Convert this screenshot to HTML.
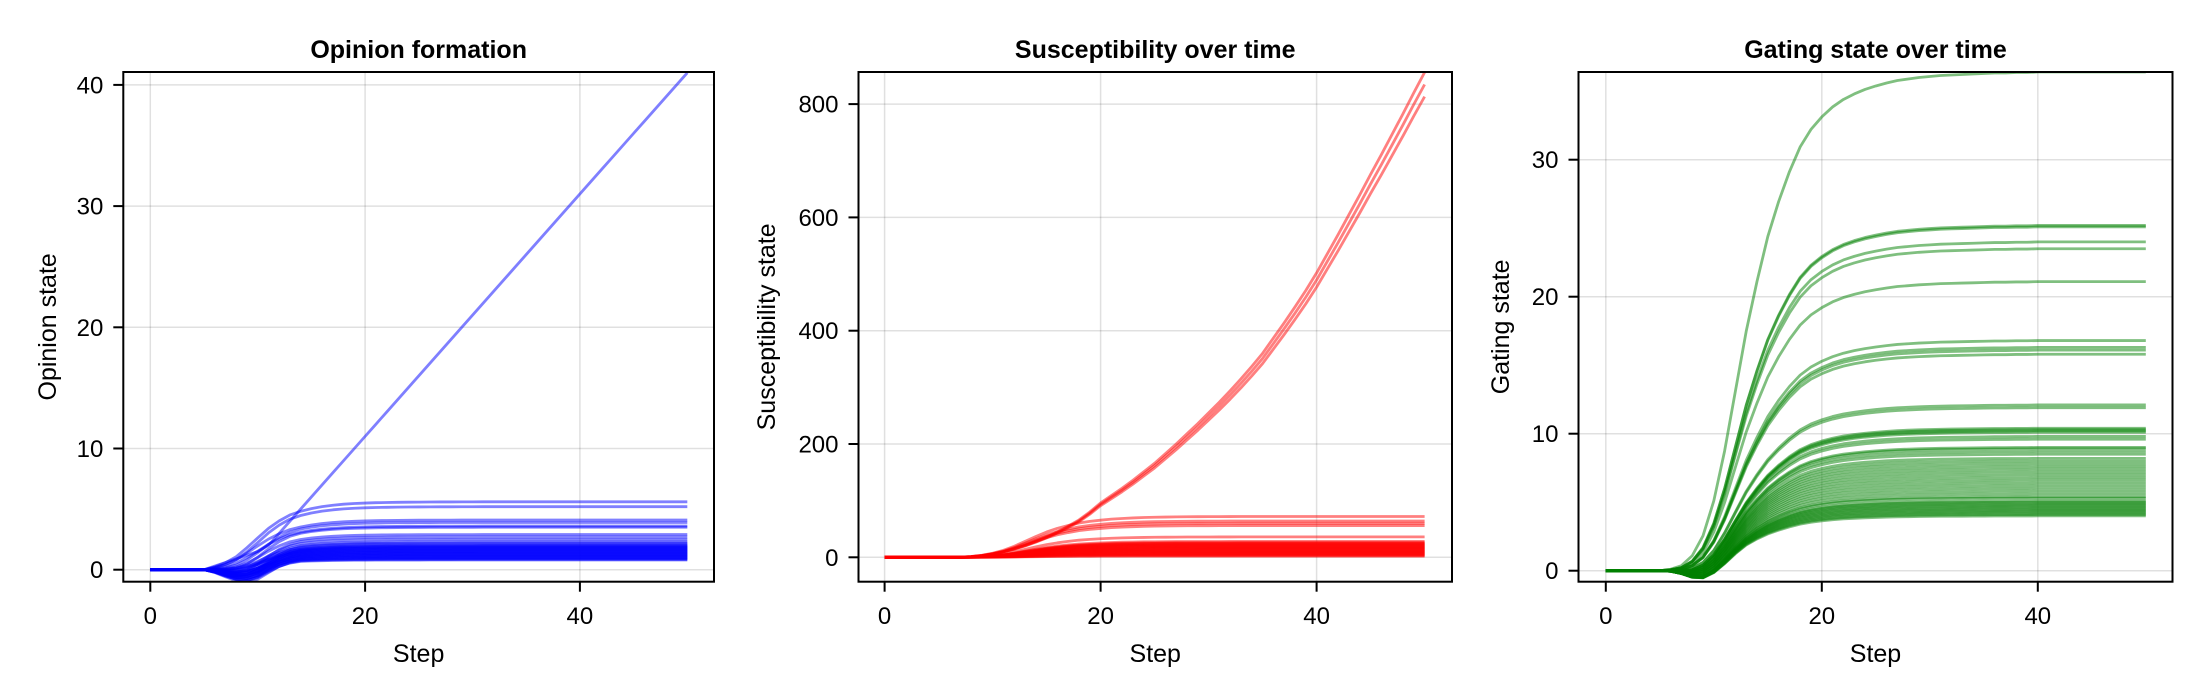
<!DOCTYPE html>
<html><head><meta charset="utf-8">
<style>
html,body{margin:0;padding:0;background:#fff;}
svg{display:block;font-family:"Liberation Sans",sans-serif;}
</style></head>
<body>
<svg id="fig" width="2200" height="700" viewBox="0 0 2200 700" xmlns="http://www.w3.org/2000/svg"></svg>
<script>
// ---------- data ----------
const steps = Array.from({length:51},(_,i)=>i);
const xTicks = [0,20,40];

// Opinion panel
const opinionTicks = [0,10,20,30,40];
const opinionFinals = [5.6,5.2,4.1,3.9,3.6,3.5,2.9,2.7,2.5,2.3,2.2,2.1,2.0,1.95,1.9,1.85,1.8,1.75,1.7,1.65,1.6,1.55,1.5,1.45,1.4,1.35,1.3,1.25,1.2,1.15,1.1,1.05,1.0,0.95,0.9,0.85,0.8];
const opinionDipAmps = [0.2,0.4,0.1,0.6,0.3,0.8,0.5,1.0,0.7,0.9,1.2,0.4,1.1,0.6,0.9,1.3,0.5,1.0,0.8,1.2,0.3,1.1,0.7,1.4,0.9,0.6,1.0,1.2,0.8,1.3,0.5,1.1,0.9,1.4,0.7,1.2,1.0];
const opinionRise = [0,0,0,0,0,0,0.05,0.12,0.22,0.36,0.5,0.63,0.73,0.81,0.86,0.9,0.93,0.95,0.965,0.975,0.982,0.987,0.99,0.993,0.995,0.996,0.997,0.998,0.998,0.999,0.999].concat(Array(20).fill(1));
const opinionDip = [0,0,0,0,0,0,-0.2,-0.5,-0.8,-1,-0.9,-0.6,-0.3,-0.1,0].concat(Array(36).fill(0));
const opinionOutlier = [0,0,0,0,0,0,0.3,0.6,0.9,1.2,1.5,2,3,4,5,6,7,8,9,10,11,12,13,14,15,16,17,18,19,20,21,22,23,24,25,26,27,28,29,30,31,32,33,34,35,36,37,38,39,40,41];

// Susceptibility panel
const suscTicks = [0,200,400,600,800];
const suscGrowth = [0,0,0,0,0,0,0,0,1,3,6,10,15,21,28,36,45,55,66,80,96,109,122,136,151,166,183,200,218,236,255,274,294,315,337,360,387,414,442,471,502,536,570,605,640,676,711,747,783,820,856];
const suscGrowthScales = [1,0.975,0.95];
const suscFinals = [72,64,60,56,36,28,26,25,24,23,22,21,20,19,18,17,16,15,14,13,12,11,10,9,8,7,6,5,4,3,2];
const suscRise = [0,0,0,0,0,0,0,0.005,0.02,0.05,0.1,0.17,0.27,0.39,0.51,0.62,0.71,0.78,0.84,0.88,0.91,0.935,0.952,0.965,0.975,0.982,0.987,0.991,0.994,0.996,0.997,0.998,0.999].concat(Array(18).fill(1));

// Gating panel
const gatingTicks = [0,10,20,30];
const gatingFinals = [36.4,25.2,25.1,24.0,23.5,21.1,16.8,16.3,16.1,15.8,12.1,11.9,10.4,10.3,10.2,10.1,9.8,9.6,9.0,8.9,8.7,8.5,8.2,8.0,7.8,7.6,7.4,7.2,7.0,6.8,6.6,6.4,6.2,6.0,5.8,5.6,5.4,5.3,5.1,5.0,4.9,4.8,4.7,4.6,4.5,4.4,4.3,4.2,4.1,4.0];
const gatingDipAmps = [0,0.1,0.1,0.1,0.1,0.2,0.2,0.2,0.2,0.2,0.3,0.3,0.4,0.4,0.4,0.4,0.5,0.5,0.5,0.5,0.6,0.6,0.6,0.6,0.7,0.7,0.7,0.7,0.8,0.8,0.8,0.8,0.9,0.9,0.9,0.9,1,1,1,1,1,1,1,1,1,1,1,1,1,1];
const gatingRise = [0,0,0,0,0,0,0.003,0.01,0.03,0.07,0.14,0.24,0.36,0.48,0.58,0.67,0.74,0.80,0.85,0.885,0.91,0.93,0.945,0.956,0.965,0.972,0.978,0.983,0.986,0.989,0.991,0.993,0.994,0.995,0.996,0.997,0.998,0.998,0.999,0.999].concat(Array(11).fill(1));
const gatingDip = [0,0,0,0,0,0,-0.05,-0.25,-0.6,-0.8,-0.7,-0.45,-0.2,-0.05].concat(Array(37).fill(0));

// ---------- drawing ----------
const NS = "http://www.w3.org/2000/svg";
const svg = document.getElementById('fig');
function mk(tag, attrs, parent){
  const e = document.createElementNS(NS, tag);
  for (const k in attrs) e.setAttribute(k, attrs[k]);
  (parent||svg).appendChild(e);
  return e;
}

function panel(cfg){
  const g = mk('g', {});
  
  
  const L=cfg.left, R=cfg.right, T=72, B=581.7;
  const sx = v => cfg.x0 + v*(cfg.xUnit);
  const sy = v => cfg.y0 - v*(cfg.yUnit);
  cfg.yTicks.forEach(t=>{
    const l = mk('line',{x1:L,x2:R,y1:sy(t),y2:sy(t),stroke:'rgba(0,0,0,0.12)','stroke-width':1.5},g);
    
    
  });
  xTicks.forEach(t=>{
    const l = mk('line',{x1:sx(t),x2:sx(t),y1:T,y2:B,stroke:'rgba(0,0,0,0.12)','stroke-width':1.5},g);
    
    
  });
  const clipId = 'clip-'+cfg.name;
  const cp = mk('clipPath',{id:clipId},g);
  mk('rect',{x:L,y:T,width:R-L,height:B-T},cp);
  const sg = mk('g',{'clip-path':'url(#'+clipId+')'},g);
  cfg.series.forEach(vals=>{
    const d = vals.map((v,i)=>(i?'L':'M')+sx(steps[i]).toFixed(2)+','+sy(v).toFixed(2)).join('');
    const p = mk('path',{d:d,fill:'none',stroke:cfg.color,'stroke-opacity':0.5,'stroke-width':2.8,'stroke-linejoin':'round'},sg);
    
    
  });
  const fr = mk('rect',{x:L,y:T,width:R-L,height:B-T,fill:'none',stroke:'#000','stroke-width':2},g);
  
  
  cfg.yTicks.forEach(t=>{
    mk('line',{x1:L-10,x2:L,y1:sy(t),y2:sy(t),stroke:'#000','stroke-width':2},g);
    const tx = mk('text',{x:L-20,y:sy(t)+8.5,'text-anchor':'end','font-size':24},g);
    tx.textContent = t;
    
    
  });
  xTicks.forEach(t=>{
    mk('line',{x1:sx(t),x2:sx(t),y1:B,y2:B+10,stroke:'#000','stroke-width':2},g);
    const tx = mk('text',{x:sx(t),y:624,'text-anchor':'middle','font-size':24},g);
    tx.textContent = t;
    
    
  });
  const ttl = mk('text',{x:(L+R)/2,y:58,'text-anchor':'middle','font-size':25,'font-weight':'bold'},g);
  ttl.textContent = cfg.title;
  
  
  const xl = mk('text',{x:(L+R)/2,y:662,'text-anchor':'middle','font-size':25},g);
  xl.textContent = 'Step';
  
  
  const yl = mk('text',{x:0,y:0,'text-anchor':'middle','font-size':25,transform:'translate('+(cfg.ylx+9)+','+((T+B)/2)+') rotate(-90)'},g);
  yl.textContent = cfg.ylabel;
  
  
}

const opinionSeries = opinionFinals.map((f,i)=>steps.map(t=>f*opinionRise[t] + opinionDipAmps[i]*opinionDip[t]));
opinionSeries.push(opinionOutlier);
const suscSeries = suscFinals.map(f=>steps.map(t=>f*suscRise[t]));
suscGrowthScales.forEach(s=>suscSeries.push(suscGrowth.map(v=>v*s)));
const gatingSeries = gatingFinals.map((f,i)=>steps.map(t=>f*gatingRise[t] + gatingDipAmps[i]*gatingDip[t]));

panel({name:'opinion-panel',title:'Opinion formation',ylabel:'Opinion state',color:'#0000ff',
  left:123.3,right:714,x0:150.3,xUnit:214.8/20,y0:569.7,yUnit:12.12,yTicks:opinionTicks,series:opinionSeries,ylx:47});
panel({name:'susceptibility-panel',title:'Susceptibility over time',ylabel:'Susceptibility state',color:'#ff0000',
  left:858.5,right:1452,x0:884.6,xUnit:216/20,y0:557.3,yUnit:0.5665,yTicks:suscTicks,series:suscSeries,ylx:766});
panel({name:'gating-panel',title:'Gating state over time',ylabel:'Gating state',color:'#008000',
  left:1578.5,right:2172.5,x0:1605.8,xUnit:216/20,y0:570.7,yUnit:13.7,yTicks:gatingTicks,series:gatingSeries,ylx:1500});
</script>
</body></html>
